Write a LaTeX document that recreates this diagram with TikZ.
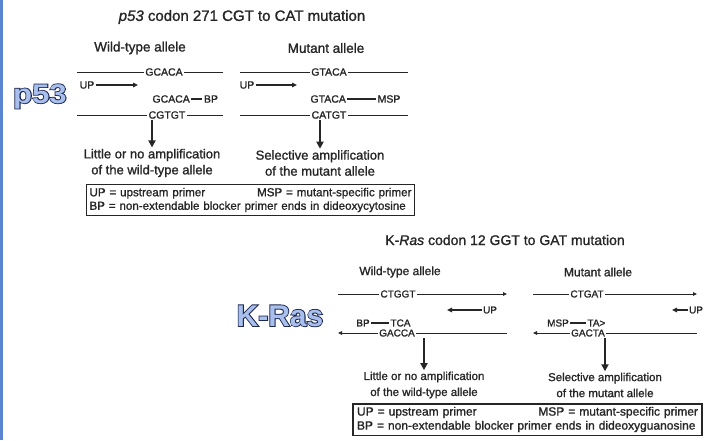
\documentclass[tikz,border=0pt]{standalone}
\usepackage{fontspec}
\setmainfont{Liberation Sans}[UprightFeatures={FakeBold=1.2},ItalicFeatures={FakeBold=1.2}]
\usetikzlibrary{arrows.meta}
\definecolor{ink}{HTML}{262626}
\definecolor{bigfill}{HTML}{AAC0EC}
\definecolor{bigline}{HTML}{1C2752}
\definecolor{edge}{HTML}{5B86CF}
\newcommand{\outlinedtext}[1]{%
  \rlap{\addfontfeature{FakeBold=6}\textcolor{bigline}{#1}}%
  \textcolor{bigfill}{#1}}
\begin{document}
\begin{tikzpicture}[x=1pt,y=-1pt,
  every node/.style={inner sep=0pt,outer sep=1.5pt,text=ink},
  ttlA/.style={font=\fontsize{15}{18}\selectfont},
  ttlB/.style={font=\fontsize{14}{17}\selectfont},
  headA/.style={font=\fontsize{13.5}{16}\selectfont},
  headB/.style={font=\fontsize{12}{14}\selectfont},
  seqA/.style={font=\fontsize{10.5}{12}\selectfont},
  seqB/.style={font=\fontsize{10}{12}\selectfont},
  resA/.style={font=\fontsize{13}{16}\selectfont,align=center},
  resB/.style={font=\fontsize{11.5}{16}\selectfont,align=center},
  keyA/.style={draw=ink,line width=1.6pt,font=\fontsize{11.6}{13.5}\selectfont,
     text width=322pt,align=left,inner xsep=3pt,inner ysep=3.5pt},
  keyB/.style={draw=ink,line width=1.2pt,font=\fontsize{12}{14}\selectfont,
     text width=341pt,align=left,inner xsep=4pt,inner ysep=3pt},
  strand/.style={draw=ink,line width=0.9pt},
  primer/.style={draw=ink,line width=1.3pt},
  ptip/.style={-{Triangle[length=5pt,width=4.5pt]}},
  stip/.style={-{Triangle[length=4pt,width=3.5pt]}},
  stipL/.style={{Triangle[length=4pt,width=3.5pt]}-},
  down/.style={draw=ink,line width=2pt,-{Triangle[length=7pt,width=7pt]}},
  big/.style={font=\fontsize{27}{30}\bfseries\selectfont,anchor=base}]
\useasboundingbox (0,0) rectangle (709,440);
\fill[white] (0,0) rectangle (709,440);
\fill[edge] (0,0) rectangle (2.5,440);

% ---------------- p53 ----------------
\node[big] (bigA) at (40,103) {\scalebox{1.15}[1]{\outlinedtext{p53}}};
\node[ttlA] (tA) at (242,17) {\textit{p53} codon 271 CGT to CAT mutation};
\node[headA] (hA1) at (140,48) {Wild-type allele};
\node[headA] (hA2) at (326,48) {Mutant allele};

% wild type
\node[seqA] (s1) at (164,72) {GCACA};
\coordinate (c1L) at (77,72); \coordinate (c1R) at (223,72);
\draw[strand] (c1L) -- (s1.west); \draw[strand] (s1.east) -- (c1R);
\node[seqA] (up1) at (87,85) {UP};
\coordinate (up1e) at (138,85);
\draw[primer,ptip] (up1.east) -- (up1e);
\node[seqA,anchor=west] (p1) at (151,99) {GCACA};
\node[seqA] (bp1) at (211,99) {BP};
\draw[primer] (p1.east) -- (bp1.west);
\node[seqA] (s2) at (167,115) {CGTGT};
\coordinate (c2L) at (77,115); \coordinate (c2R) at (223,115);
\draw[strand] (c2L) -- (s2.west); \draw[strand] (s2.east) -- (c2R);
\node[resA] (r1) at (152,163) {Little or no amplification\\of the wild-type allele};
\draw[down] (r1.north |- s2.south) -- (r1.north);

% mutant
\node[seqA] (s3) at (329,72) {GTACA};
\coordinate (c3L) at (240,72); \coordinate (c3R) at (408,72);
\draw[strand] (c3L) -- (s3.west); \draw[strand] (s3.east) -- (c3R);
\node[seqA] (up2) at (247,85) {UP};
\coordinate (up2e) at (297,85);
\draw[primer,ptip] (up2.east) -- (up2e);
\node[seqA,anchor=west] (p2) at (309,99) {GTACA};
\node[seqA] (msp1) at (389,99) {MSP};
\draw[primer] (p2.east) -- (msp1.west);
\node[seqA] (s4) at (329,115) {CATGT};
\coordinate (c4L) at (240,115); \coordinate (c4R) at (408,115);
\draw[strand] (c4L) -- (s4.west); \draw[strand] (s4.east) -- (c4R);
\node[resA] (r2) at (320,163) {Selective amplification\\of the mutant allele};
\draw[down] (r2.north |- s4.south) -- (r2.north);

\node[keyA] (kA) at (250.5,200) {UP = upstream primer\hfill MSP = mutant-specific primer\\BP = non-extendable blocker primer ends in dideoxycytosine};

% ---------------- K-Ras ----------------
\node[big,font=\fontsize{30}{34}\bfseries\selectfont] (bigB) at (280,326) {\outlinedtext{K-Ras}};
\node[ttlB] (tB) at (505,240) {K-\textit{Ras} codon 12 GGT to GAT mutation};
\node[headB] (hB1) at (400,272) {Wild-type allele};
\node[headB] (hB2) at (598,272) {Mutant allele};

% wild type
\node[seqB] (s5) at (398,294) {CTGGT};
\coordinate (c5L) at (338,294); \coordinate (c5R) at (507,294);
\draw[strand] (c5L) -- (s5.west); \draw[strand,stip] (s5.east) -- (c5R);
\node[seqB] (up3) at (490,310) {UP};
\coordinate (up3e) at (447,310);
\draw[primer,ptip] (up3.west) -- (up3e);
\node[seqB] (bp2) at (363,323) {BP};
\node[seqB,anchor=west] (p3) at (389,323) {TCA};
\draw[primer] (bp2.east) -- (p3.west);
\node[seqB] (s6) at (397,333) {GACCA};
\coordinate (c6L) at (338,333); \coordinate (c6R) at (507,333);
\draw[strand,stipL] (c6L) -- (s6.west); \draw[strand] (s6.east) -- (c6R);
\node[resB] (r3) at (424,385) {Little or no amplification\\of the wild-type allele};
\draw[down] (r3.north |- s6.south) -- (r3.north);

% mutant
\node[seqB] (s7) at (587,294) {CTGAT};
\coordinate (c7L) at (533,294); \coordinate (c7R) at (697,294);
\draw[strand] (c7L) -- (s7.west); \draw[strand,stip] (s7.east) -- (c7R);
\node[seqB] (up4) at (696,310) {UP};
\coordinate (up4e) at (672,310);
\draw[primer,ptip] (up4.west) -- (up4e);
\node[seqB] (msp2) at (558,323) {MSP};
\node[seqB,anchor=west] (p4) at (586,323) {TA>};
\draw[primer] (msp2.east) -- (p4.west);
\node[seqB] (s8) at (588,333) {GACTA};
\coordinate (c8L) at (533,333); \coordinate (c8R) at (697,333);
\draw[strand,stipL] (c8L) -- (s8.west); \draw[strand] (s8.east) -- (c8R);
\node[resB] (r4) at (605,385) {Selective amplification\\of the mutant allele};
\draw[down] (r4.north |- s8.south) -- (r4.north);

\node[keyB] (kB) at (527.5,419.5) {UP = upstream primer\hfill MSP = mutant-specific primer\\BP = non-extendable blocker primer ends in dideoxyguanosine};
\end{tikzpicture}
\end{document}
